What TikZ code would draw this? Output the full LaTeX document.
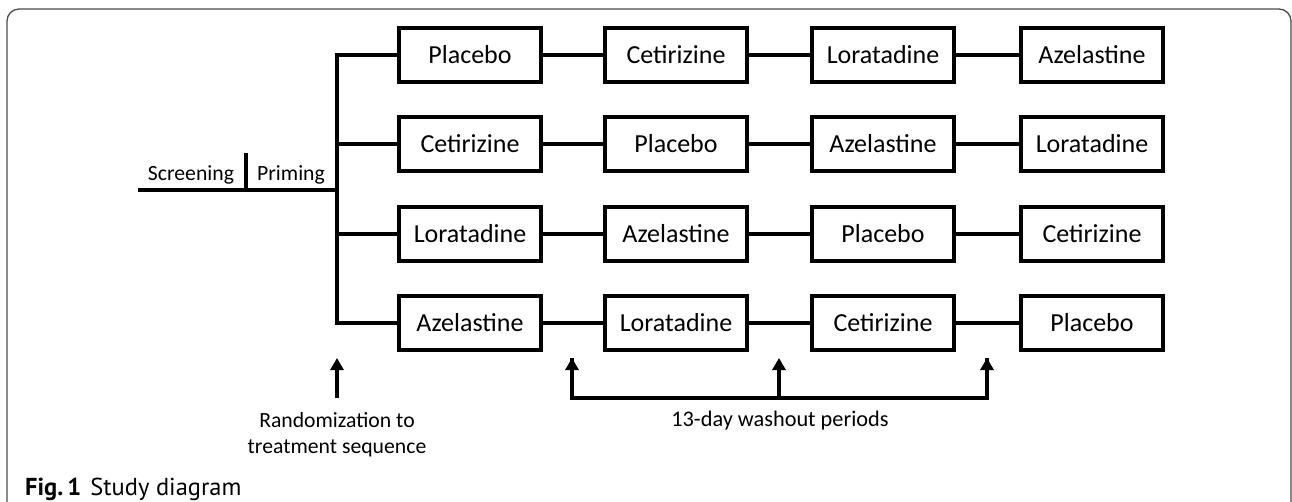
\documentclass[tikz,border=0pt]{standalone}
\usepackage{fontspec}
\setmainfont{Carlito}
\newfontfamily\capfont{PT Sans}
\usetikzlibrary{arrows.meta}
\begin{document}
\begin{tikzpicture}[x=1pt,y=-1pt,
  drug/.style={draw=black,line width=3.8pt,minimum width=142pt,minimum height=54pt,inner sep=0pt,font=\fontsize{26}{28}\selectfont},
  conn/.style={line width=3.2pt},
  arr/.style={line width=3.2pt,-{Triangle[length=12pt,width=13pt]}},
  lbl/.style={font=\fontsize{21.7}{26}\selectfont,inner sep=0pt},
  frame/.style={draw=black!70,line width=1.3pt,rounded corners=12pt}]
\useasboundingbox (0,0) rectangle (1292,502);
\begin{scope}
\clip (0,0) rectangle (1292,502);
\draw[frame] (7,9) rectangle (1291,540);
\end{scope}
% boxes
\foreach \r/\y/\a/\b/\c/\d in {1/55/Placebo/Cetirizine/Loratadine/Azelastine,
                               2/144/Cetirizine/Placebo/Azelastine/Loratadine,
                               3/234/Loratadine/Azelastine/Placebo/Cetirizine,
                               4/323/Azelastine/Loratadine/Cetirizine/Placebo}{
  \node[drug] (b\r1) at (470,\y) {\a};
  \node[drug] (b\r2) at (676,\y) {\b};
  \node[drug] (b\r3) at (883,\y) {\c};
  \node[drug] (b\r4) at (1092,\y) {\d};
  \draw[conn] (b\r1) -- (b\r2) (b\r2) -- (b\r3) (b\r3) -- (b\r4);
}
% trunk
\coordinate (t1) at (337,55);
\coordinate (t2) at (337,144);
\coordinate (t3) at (337,234);
\coordinate (t4) at (337,323);
\coordinate (ts) at (337,190);
\draw[conn,line join=miter] (b11.west) -- (t1) -- (t4) -- (b41.west);
\draw[conn] (t2) -- (b21.west);
\draw[conn] (t3) -- (b31.west);
% screening / priming
\coordinate (s0) at (138,190);
\coordinate (d0) at (246,190);
\coordinate (d1) at (246,153);
\draw[conn] (s0) -- (ts);
\draw[conn] (d0) -- (d1);
\node[lbl,anchor=base] (scr) at (191,181) {Screening};
\node[lbl,anchor=base] (pri) at (291,181) {Priming};
% randomization arrow
\coordinate (r0) at (337,398);
\coordinate (r1) at (337,358);
\draw[arr] (r0) -- (r1);
\node[lbl,align=center] (rnd) at (337,435) {Randomization to\\treatment sequence};
% washout arrows
\coordinate (w1) at (572,398);
\coordinate (w2) at (779,398);
\coordinate (w3) at (987,398);
\coordinate (u1) at (572,358);
\coordinate (u2) at (779,358);
\coordinate (u3) at (987,358);
\draw[conn,line join=miter] (u1) -- (w1) -- (w3) -- (u3);
\draw[arr] (w1) -- (u1);
\draw[arr] (w2) -- (u2);
\draw[arr] (w3) -- (u3);
\node[lbl,font=\fontsize{22.3}{26}\selectfont] (wash) at (780,421) {13-day washout periods};
% caption
\node[anchor=base west,inner sep=0pt,font=\capfont\fontsize{24.5}{28}\selectfont] (cap) at (25,495) {\textbf{Fig.\,1}\hspace{9pt}Study diagram};
\end{tikzpicture}
\end{document}
